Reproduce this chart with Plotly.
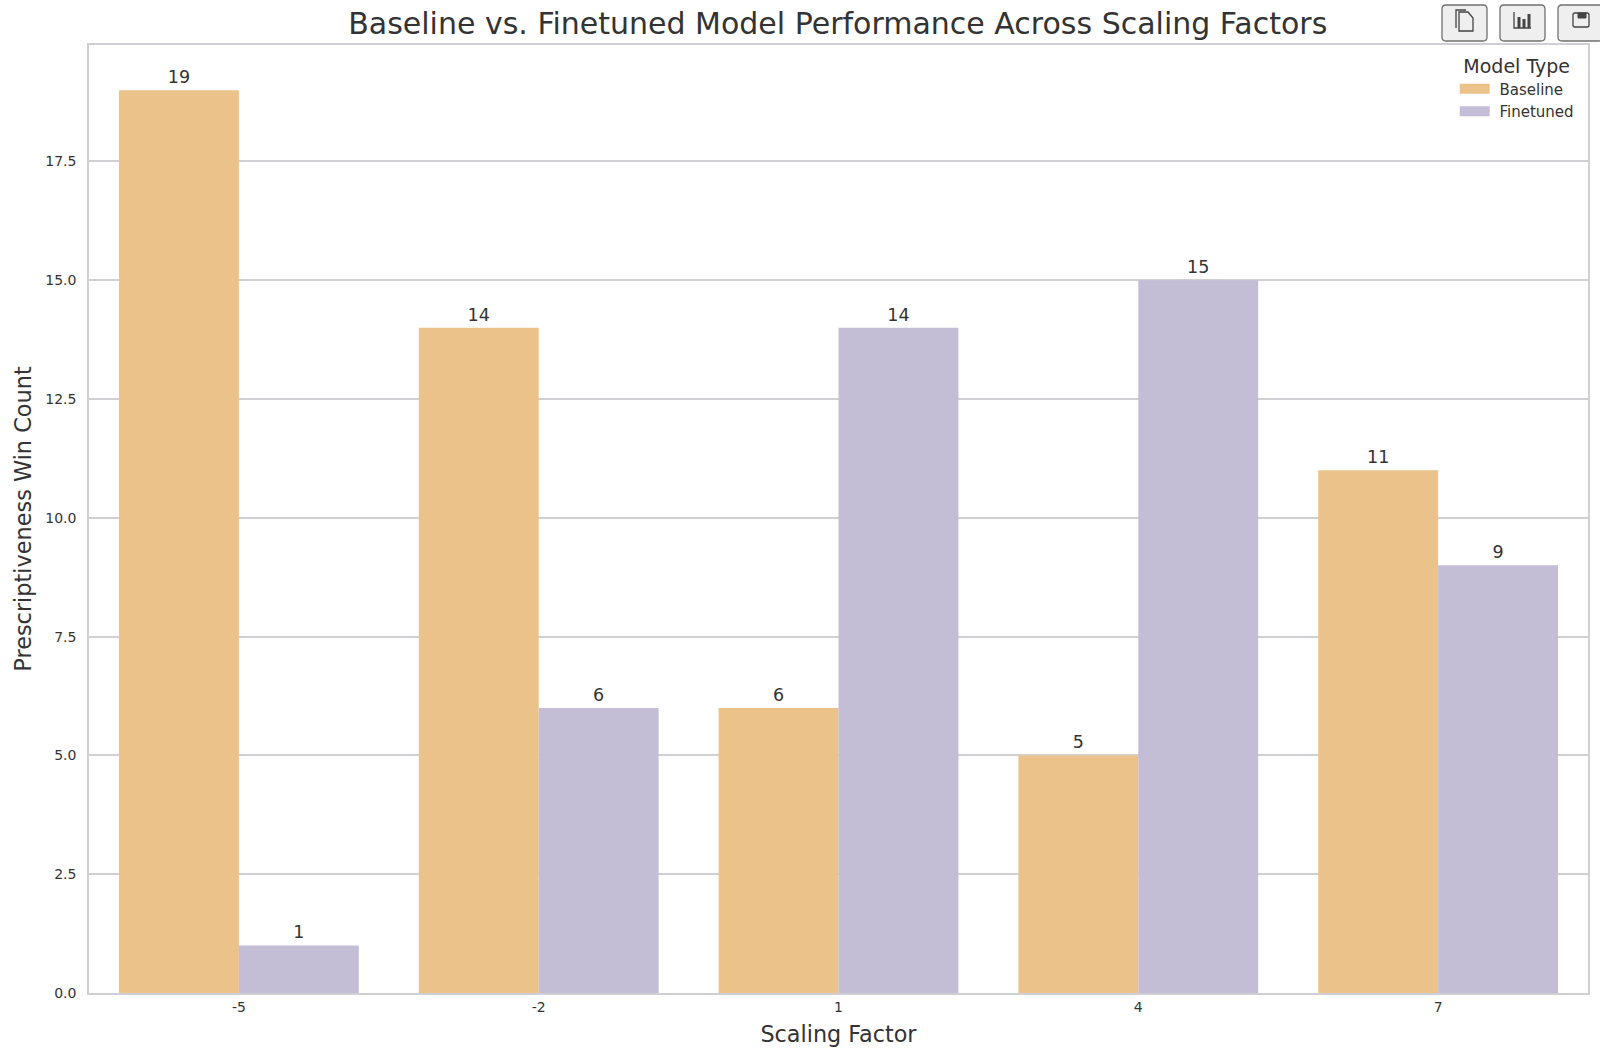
import plotly.graph_objects as go

categories = ["-5", "-2", "1", "4", "7"]
baseline = [19, 14, 6, 5, 11]
finetuned = [1, 6, 14, 15, 9]
title = "Baseline vs. Finetuned Model Performance Across Scaling Factors"
F = "DejaVu Sans"
TXT = "#333333"
ORANGE = "#ecc28b"
PURPLE = "#c3bed6"
GRID = "#d0d0d4"

fig = go.Figure()
for name, vals, col in [("Baseline", baseline, ORANGE), ("Finetuned", finetuned, PURPLE)]:
    fig.add_bar(x=categories, y=vals, name=name, showlegend=False, marker=dict(color=col, line_width=0),
                text=vals, textposition="outside", cliponaxis=False,
                textfont=dict(size=17.5, color=TXT, family=F))
# empty line traces give the legend its wide swatches
for name, col in [("\u00a0Baseline", ORANGE), ("\u00a0Finetuned", PURPLE)]:
    fig.add_scatter(x=[None], y=[None], mode="lines", name=name, line=dict(color=col, width=10), hoverinfo="skip")

BTN = dict(type="path", xref="paper", yref="paper", xanchor=1, yanchor=1,
           xsizemode="pixel", ysizemode="pixel", layer="above")

def rect(x0, y0, x1, y1, r=4):
    return (f"M{x0+r},{y0} L{x1-r},{y0} Q{x1},{y0} {x1},{y0+r} L{x1},{y1-r} Q{x1},{y1} {x1-r},{y1} "
            f"L{x0+r},{y1} Q{x0},{y1} {x0},{y1-r} L{x0},{y0+r} Q{x0},{y0} {x0+r},{y0} Z")

shapes = []
# toolbar: pixel offsets from the plot's top-right corner, y upward
for bx in (-146, -88, -30):
    shapes.append(dict(BTN, path=rect(bx, 4, bx + 45, 40), fillcolor="#efefef", line=dict(color="#707070", width=1.3)))
ic = dict(fillcolor="rgba(0,0,0,0)", line=dict(color="#444444", width=1.3))
shapes.append(dict(BTN, path="M-129,33 L-120,33 L-115,27 L-115,14 L-129,14 Z", **ic))
shapes.append(dict(BTN, path="M-132,17 L-132,35 L-122,35", **ic))
shapes.append(dict(BTN, path="M-74,33 L-74,17 L-57,17", **ic))
shapes.append(dict(BTN, path="M-69,17 L-69,28 M-64,17 L-64,26 M-59,17 L-59,31",
                   fillcolor="rgba(0,0,0,0)", line=dict(color="#444444", width=3)))
shapes.append(dict(BTN, path=rect(-15, 18, 1, 32, 2), **ic))
shapes.append(dict(BTN, path="M-10,27 L-2,27 L-2,32 L-10,32 Z", fillcolor="#444444", line=dict(color="#444444", width=1)))

fig.update_layout(
    width=1600, height=1061, autosize=False,
    paper_bgcolor="white", plot_bgcolor="white",
    margin=dict(l=89, r=12, t=45, b=68, autoexpand=False),
    barmode="group", bargap=0.2, bargroupgap=0,
    font=dict(family=F, color=TXT),
    shapes=shapes,
    title=dict(text=title, x=0.5236, xanchor="center", y=0.9783, yanchor="middle",
               font=dict(size=30, color=TXT, family=F)),
    legend=dict(title=dict(text="Model Type", side="top center", font=dict(size=19, color=TXT)),
                font=dict(size=15, color=TXT), x=0.9938, xanchor="right", y=0.997, yanchor="top",
                bgcolor="rgba(255,255,255,0)", itemwidth=30, tracegroupgap=0),
)
fig.update_xaxes(type="category", title=dict(text="Scaling Factor", font=dict(size=22.3, color=TXT), standoff=13),
                 tickfont=dict(size=14, color=TXT), showgrid=False, ticks="", showline=True,
                 linecolor=GRID, linewidth=1.5, mirror=True)
fig.update_yaxes(title=dict(text="Prescriptiveness Win Count", font=dict(size=22.4, color=TXT), standoff=7),
                 range=[0, 19.95], tick0=0, dtick=2.5, tickformat=".1f", tickfont=dict(size=14, color=TXT),
                 showgrid=True, gridcolor=GRID, gridwidth=1.5, zeroline=False,
                 ticks="outside", ticklen=8, tickcolor="rgba(0,0,0,0)", showline=True,
                 linecolor=GRID, linewidth=1.5, mirror=True)
fig.write_html("out.html", config={"displayModeBar": False},
               post_script="document.body.style.margin='0';")
